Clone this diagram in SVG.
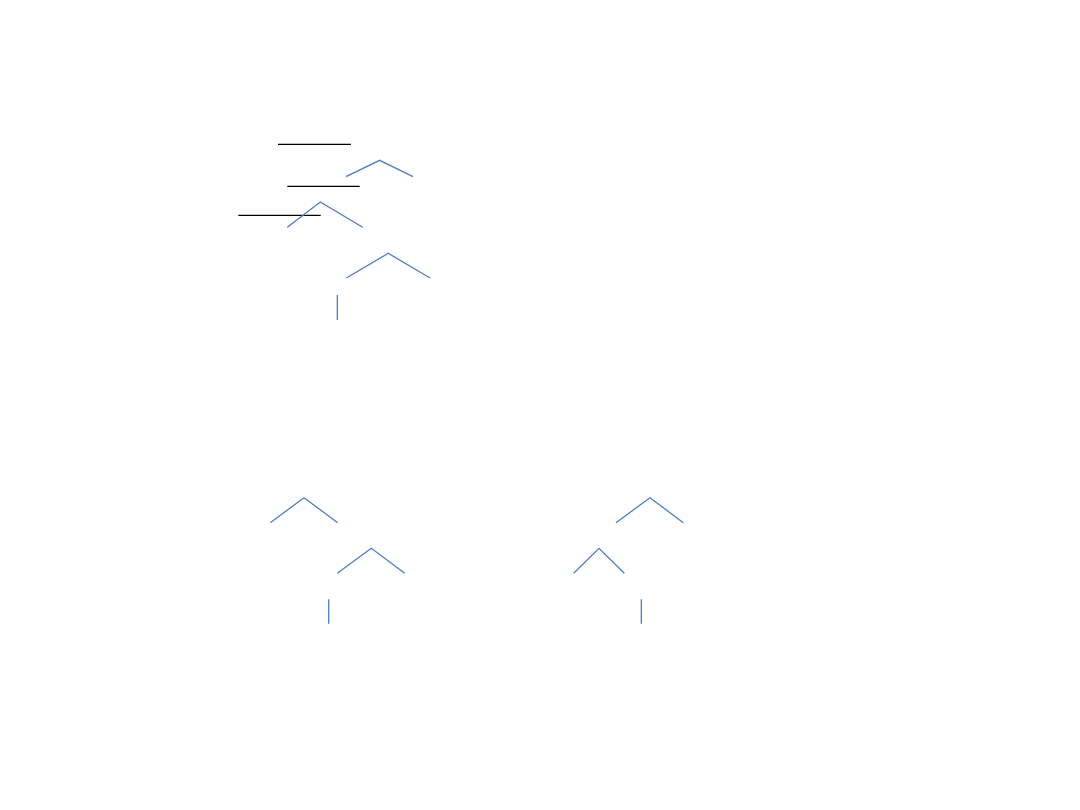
<svg xmlns="http://www.w3.org/2000/svg" width="1080" height="810" viewBox="0 0 1080 810">
<style>
.b{fill:none;stroke:#4A7EC6;stroke-width:1.3;stroke-linejoin:miter}
.k{fill:none;stroke:#000;stroke-width:1.2}
</style>
<rect width="1080" height="810" fill="#fff"/>
<g id="connectors">
<line class="k" x1="278" y1="144.3" x2="351" y2="144.3"/>
<line class="k" x1="287.3" y1="186.3" x2="359.7" y2="186.3"/>
<line class="k" x1="238.3" y1="215.3" x2="320.7" y2="215.3"/>
<polyline class="b" points="346,176.7 379.7,160.3 413,176.7"/>
<polyline class="b" points="287.3,227.3 320.3,202 362.7,227.3"/>
<polyline class="b" points="346.3,278 388.3,253.3 430,278"/>
<line class="b" x1="337.3" y1="295" x2="337.3" y2="320"/>
<polyline class="b" points="270.3,522.7 304,497.7 337.7,522.7"/>
<polyline class="b" points="337.3,573.3 371.3,548.3 404.7,573.3"/>
<line class="b" x1="328.7" y1="599.3" x2="328.7" y2="623.7"/>
<polyline class="b" points="616,522.7 650,497.7 683.3,522.7"/>
<polyline class="b" points="573.7,573.3 599,548.3 624.3,573.3"/>
<line class="b" x1="641.3" y1="599.3" x2="641.3" y2="623.7"/>
</g>
</svg>
